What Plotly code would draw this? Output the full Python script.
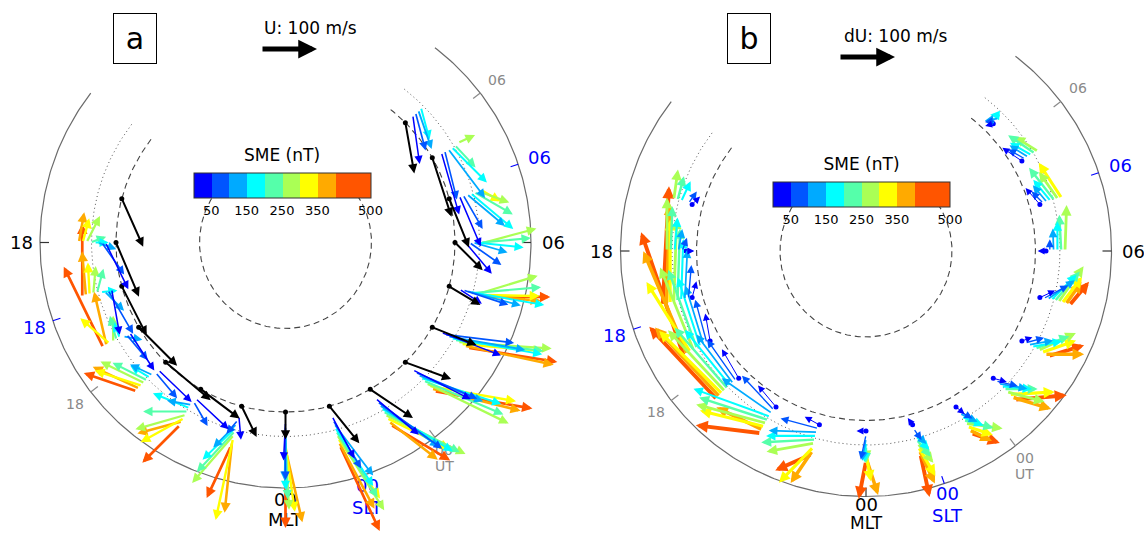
import numpy as np
import plotly.graph_objects as go

# ---------------- data ----------------
SME_EDGES = [0, 50, 100, 150, 200, 250, 300, 350, 400, 500]
SME_COLORS = ["#0000ff", "#0055ff", "#00aaff", "#00ffff", "#55ffaa",
              "#aaff55", "#ffff00", "#ffaa00", "#ff5500"]
SME_TICKS = [50, 150, 250, 350, 500]

# panel a: reference (black) wind per MLT sector: speed (m/s), bearing (deg from north toward east)
A_BLACK_MLT = [17, 18, 19, 20, 21, 22, 23, 0, 1, 2, 3, 4, 5, 6, 7, 8, 9]
A_BLACK_SPEED = [94, 105, 98, 97, 105, 87, 61, 49, 85, 92, 87, 85, 65, 70, 94, 111, 92]
A_BLACK_BEARING = [51, 67, 78, 75, 85, 97, 139, 180, 156, 154, 155, 172, 196, 225, 263, 282, 305]

# panel a: wind per MLT sector for the 9 SME bins (speed m/s, bearing deg); None = no data
A_MLT = [18, 19, 20, 21, 22, 23, 0, 1, 2, 3, 4, 5, 6, 7, 8, 9]
A_SPEED = [
    [93, 70, 35, 26, 30, 53, 45, 55, None],
    [83, 90, 50, 30, 45, 50, 58, 80, 131],
    [81, 60, 35, 30, 45, 47, 70, 99, 161],
    [83, 60, 45, 41, 70, 88, 89, 92, 100],
    [81, 50, 45, 71, 80, 94, 89, 83, 96],
    [42, 32, 60, 83, 100, 114, 149, 127, 103],
    [68, 96, 90, 100, 110, 122, 120, 134, 134],
    [85, 100, 116, 125, 140, 159, 131, 135, 168],
    [101, 143, 130, 149, 155, 160, 125, 111, 124],
    [116, 120, 125, 151, 155, 164, 158, 164, 178],
    [114, 125, 140, 165, 160, 168, 147, 163, 162],
    [48, 85, 100, 134, 120, 112, 104, 100, 110],
    [73, 70, 64, 84, 90, 96, None, None, None],
    [98, 70, 89, 100, 80, 60, 40, None, None],
    [115, 90, 110, 90, 55, 34, None, None, None],
    [88, 70, 74, 60, None, None, None, None, None],
]
A_BEARING = [
    [64, 55, 20, 0, 340, 297, 285, 280, None],
    [95, 75, 60, 10, 300, 290, 282, 280, 285],
    [87, 80, 40, 280, 285, 300, 251, 287, 274],
    [89, 95, 250, 256, 252, 251, 243, 250, 244],
    [103, 120, 250, 262, 240, 224, 211, 225, 195],
    [160, 205, 210, 211, 208, 206, 177, 171, 190],
    [183, 180, 181, 180, 178, 177, 172, 167, 180],
    [167, 165, 158, 162, 163, 163, 160, 167, 170],
    [160, 156, 155, 151, 148, 146, 146, 158, 151],
    [162, 158, 157, 153, 158, 161, 145, 149, 145],
    [171, 157, 160, 160, 157, 154, 155, 162, 159],
    [198, 183, 180, 175, 160, 148, 166, 170, 165],
    [230, 215, 196, 186, 175, 165, None, None, None],
    [262, 255, 235, 235, 225, 215, 226, None, None],
    [284, 286, 263, 255, 257, 185, None, None, None],
    [307, 300, 296, 300, None, None, None, None, None],
]

# panel b: wind difference per MLT sector for the 9 SME bins
B_MLT = [17, 18, 19, 20, 21, 22, 23, 0, 1, 2, 3, 4, 5, 6, 7, 8, 9]
B_SPEED = [
    [20, 26, None, 40, 45, 54, None, None, None],
    [15, 25, 40, 60, 80, 95, None, None, None],
    [30, 60, 90, 110, 130, 150, 150, 180, 213],
    [50, 80, 110, 130, 150, 160, 148, 200, 234],
    [60, 90, 110, 130, 145, 150, 160, 170, 178],
    [50, 84, 110, 146, 130, 130, 119, 92, 117],
    [30, 70, 87, 90, 97, 87, 89, 70, 71],
    [17, 45, 40, 35, 30, 20, 50, 70, 68],
    [15, 25, 30, 35, 40, 45, 60, 65, 78],
    [20, 30, 35, 42, 55, 67, 48, 45, 54],
    [25, 40, 52, 55, 60, 70, 81, 73, 93],
    [20, 35, 45, 55, 65, 74, 65, 70, 67],
    [30, 50, 60, 65, 70, 79, 60, 50, 55],
    [15, 21, 40, 53, 65, 82, None, None, None],
    [39, 30, 40, 50, 74, 60, 76, None, None],
    [42, 35, 40, 45, 58, 50, None, None, None],
    [15, 20, 25, 20, None, None, None, None, None],
]
B_BEARING = [
    [300, 290, None, 280, 270, 263, None, None, None],
    [0, 290, 280, 275, 272, 270, None, None, None],
    [300, 290, 288, 287, 287, 287, 285, 287, 288],
    [290, 285, 283, 282, 280, 278, 268, 277, 281],
    [285, 280, 278, 276, 274, 272, 270, 272, 272],
    [290, 287, 275, 260, 258, 255, 254, 266, 247],
    [284, 270, 257, 255, 252, 245, 209, 199, 231],
    [270, 192, 190, 185, 180, 175, 170, 162, 191],
    [340, 160, 150, 150, 155, 156, 165, 170, 183],
    [160, 150, 145, 142, 135, 128, 138, 146, 139],
    [150, 148, 145, 140, 135, 150, 132, 152, 130],
    [130, 135, 140, 140, 130, 125, 131, 150, 133],
    [140, 137, 130, 120, 115, 110, 112, 110, 115],
    [0, 90, 88, 90, 87, 92, None, None, None],
    [64, 60, 65, 66, 67, 70, 72, None, None],
    [64, 60, 62, 60, 64, 62, None, None, None],
    [30, 40, 35, 50, None, None, None, None, None],
]

# ---------------- layout constants ----------------
W, H = 1144, 533
PX_PER_MS = 0.56          # arrow length per m/s
R_OUTER, R_DOT, R_DASH, R_INNER = 245.5, 194, 169.5, 86
R_BLACK = 169.5
R_BASE0, R_STEP = 180, 3.8
GAP = (9.5, 15.5)          # MLT gap of the rings
SLT_OFF, UT_OFF = 1.24, 2.5
FONT = "DejaVu Sans"
BLUE, GRAY = "#0000ff", "#8a8a8a"

# panel centres in pixels
CA = (285.5, 242.5)
CB = (866.0, 251.0)


def pxy(mlt, r):
    th = np.deg2rad(np.asarray(mlt, dtype=float) * 15.0)
    return r * np.sin(th), -r * np.cos(th)


def vec(mlt, speed, bearing):
    th = np.deg2rad(mlt * 15.0)
    b = np.deg2rad(bearing)
    e, n = speed * np.sin(b), speed * np.cos(b)
    return ((e * np.cos(th) - n * np.sin(th)) * PX_PER_MS,
            (e * np.sin(th) + n * np.cos(th)) * PX_PER_MS)


fig = go.Figure()
annotations = []
shapes = []

axes = [("x", "y", CA), ("x2", "y2", CB)]


def ring_traces(xr, yr):
    m = np.linspace(GAP[1], GAP[0] + 24, 400)
    specs = [(R_OUTER, "solid", "#6b6b6b", 1.2),
             (R_DOT, "1px,3px", "#555555", 1.0),
             (R_DASH, "6px,4px", "#444444", 1.1),
             (R_INNER, "6px,4px", "#444444", 1.1)]
    for r, dash, col, w in specs:
        x, y = pxy(m, r)
        fig.add_trace(go.Scatter(x=x, y=y, xaxis=xr, yaxis=yr, mode="lines",
                                 line=dict(color=col, width=w, dash=dash),
                                 hoverinfo="skip", showlegend=False))
    for mlts, col, ln in [([0, 6, 18], "#333333", 9),
                          ([0 + SLT_OFF, 6 + SLT_OFF, 18 + SLT_OFF], BLUE, 8),
                          ([0 + UT_OFF, 6 + UT_OFF, 18 + UT_OFF], GRAY, 9)]:
        xs, ys = [], []
        for mm in mlts:
            x0, y0 = pxy(mm, R_OUTER)
            x1, y1 = pxy(mm, R_OUTER - ln)
            xs += [x0, x1, None]
            ys += [y0, y1, None]
        fig.add_trace(go.Scatter(x=xs, y=ys, xaxis=xr, yaxis=yr, mode="lines",
                                 line=dict(color=col, width=1.2),
                                 hoverinfo="skip", showlegend=False))


def label(xr, yr, mlt, r, text, color, size, dy=0):
    x, y = pxy(mlt, r)
    annotations.append(dict(x=float(x), y=float(y) - dy, xref=xr, yref=yr, text=text,
                            showarrow=False, font=dict(family=FONT, size=size, color=color),
                            xanchor="center", yanchor="middle"))


def arrow(xr, yr, x0, y0, x1, y1, color, width):
    size = 1.4 / width ** 0.6
    annotations.append(dict(x=float(x1), y=float(y1), ax=float(x0), ay=float(y0),
                            xref=xr, yref=yr, axref=xr, ayref=yr, text="",
                            showarrow=True, arrowhead=2, arrowsize=size,
                            arrowwidth=width, arrowcolor=color, standoff=0))


for xr, yr, c in axes:
    ring_traces(xr, yr)
    b = xr == "x2"
    label(xr, yr, 18, 264.5 if not b else 265, "18", "black", 18)
    label(xr, yr, 6, 268 if not b else 267, "06", "black", 18)
    label(xr, yr, 0, 257 if not b else 253, "00", "black", 18)
    label(xr, yr, 0, 257 if not b else 253, "MLT", "black", 18 if not b else 17,
          dy=20 if not b else 18.5)
    label(xr, yr, 6 + SLT_OFF, 268, "06", BLUE, 18)
    label(xr, yr, 18 + SLT_OFF, 265, "18", BLUE, 18)
    label(xr, yr, SLT_OFF, 256, "00", BLUE, 18)
    label(xr, yr, SLT_OFF, 256, "SLT", BLUE, 18, dy=22)
    label(xr, yr, 6 + UT_OFF, 267, "06", GRAY, 14)
    label(xr, yr, 18 + UT_OFF, 265, "18", GRAY, 14)
    label(xr, yr, UT_OFF, 261, "00", GRAY, 14)
    label(xr, yr, UT_OFF, 261, "UT", GRAY, 14, dy=16)


def colored(xr, yr, mlts, speeds, bearings, wfun, dots):
    for k in range(8, -1, -1):
        for mlt, sp, be in zip(mlts, speeds, bearings):
            if sp[k] is None:
                continue
            x0, y0 = pxy(mlt, R_BASE0 + R_STEP * k)
            vx, vy = vec(mlt, sp[k], be[k])
            arrow(xr, yr, x0, y0, x0 + vx, y0 + vy, SME_COLORS[k], wfun(k))
    if dots:
        x0, y0 = pxy(mlts, R_BASE0)
        fig.add_trace(go.Scatter(x=x0, y=y0, xaxis=xr, yaxis=yr, mode="markers",
                                 marker=dict(color=SME_COLORS[0], size=5),
                                 hoverinfo="skip", showlegend=False))


colored("x", "y", A_MLT, A_SPEED, A_BEARING, lambda k: 1.5 + 0.15 * k, False)
colored("x2", "y2", B_MLT, B_SPEED, B_BEARING, lambda k: 1.0 + 0.36 * k, True)

# black arrows of panel a
bx, by = pxy(A_BLACK_MLT, R_BLACK)
fig.add_trace(go.Scatter(x=bx, y=by, xaxis="x", yaxis="y", mode="markers",
                         marker=dict(color="black", size=5), hoverinfo="skip", showlegend=False))
for mlt, sp, be, x0, y0 in zip(A_BLACK_MLT, A_BLACK_SPEED, A_BLACK_BEARING, bx, by):
    vx, vy = vec(mlt, sp, be)
    arrow("x", "y", x0, y0, x0 + vx, y0 + vy, "black", 2.0)

# reference arrows (100 m/s)
REF_SPEED = 100
for xr, yr, c, x0, ytop, txt, tx, ty in [("x", "y", CA, 261, 49, "U: 100 m/s", 310, 28),
                                          ("x2", "y2", CB, 839, 57, "dU: 100 m/s", 896, 36)]:
    ax0, ay0 = x0 - c[0], c[1] - ytop
    annotations.append(dict(x=ax0 + REF_SPEED * PX_PER_MS, y=ay0, ax=ax0, ay=ay0,
                            xref=xr, yref=yr, axref=xr, ayref=yr, text="", showarrow=True,
                            arrowhead=2, arrowsize=0.75, arrowwidth=5, arrowcolor="black",
                            standoff=0))
    annotations.append(dict(x=tx - c[0], y=c[1] - ty, xref=xr, yref=yr, text=txt,
                            showarrow=False, font=dict(family=FONT, size=17, color="black"),
                            xanchor="center", yanchor="middle"))

# panel letters
for txt, cx, cy in [("a", 134.5, 38.5), ("b", 749.0, 38.5)]:
    annotations.append(dict(x=cx / W, y=1 - cy / H, xref="paper", yref="paper", text=txt,
                            showarrow=False, font=dict(family=FONT, size=30, color="black"),
                            width=42, height=49, borderpad=0, bordercolor="black",
                            borderwidth=1, bgcolor="white", xanchor="center", yanchor="middle"))

# SME colorbars (bar top/left in pixels)
CBAR_LEN, CBAR_THICK = 177, 25
cs = []
for i, col in enumerate(SME_COLORS):
    cs += [[SME_EDGES[i] / 500, col], [SME_EDGES[i + 1] / 500, col]]
for xr, yr, cxp, bar_top in [("x", "y", 282.0, 173.0), ("x2", "y2", 861.5, 182.0)]:
    fig.add_trace(go.Scatter(
        x=[0], y=[0], xaxis=xr, yaxis=yr, mode="markers", hoverinfo="skip", showlegend=False,
        marker=dict(size=1, opacity=0, color=[250], cmin=0, cmax=500, colorscale=cs,
                    showscale=True,
                    colorbar=dict(orientation="h", x=cxp / W, xanchor="center",
                                  y=1 - (bar_top - 20) / H, yanchor="top",
                                  len=CBAR_LEN / W, lenmode="fraction",
                                  thickness=CBAR_THICK, thicknessmode="pixels", outlinewidth=1,
                                  outlinecolor="#333333", tickvals=SME_TICKS, ticks="",
                                  tickfont=dict(family=FONT, size=13, color="black"),
                                  title=dict(text="SME (nT)", side="top",
                                             font=dict(family=FONT, size=17, color="black")),
                                  xpad=0, ypad=0, bgcolor="rgba(0,0,0,0)"))))
    left = cxp - CBAR_LEN / 2
    for e in SME_EDGES[1:-1]:
        xe = left + e / 500 * CBAR_LEN
        shapes.append(dict(type="line", xref="paper", yref="paper",
                           x0=xe / W, x1=xe / W, y0=1 - bar_top / H,
                           y1=1 - (bar_top + CBAR_THICK) / H,
                           line=dict(color="#333333", width=0.8), layer="above"))

ax_common = dict(visible=False, showgrid=False, zeroline=False, fixedrange=True)
fig.update_layout(
    width=W, height=H, margin=dict(l=0, r=0, t=0, b=0),
    paper_bgcolor="white", plot_bgcolor="white", showlegend=False,
    xaxis=dict(domain=[0, 0.5], range=[-CA[0], 572 - CA[0]], **ax_common),
    yaxis=dict(domain=[0, 1], range=[CA[1] - H, CA[1]], **ax_common),
    xaxis2=dict(domain=[0.5, 1], range=[572 - CB[0], W - CB[0]], **ax_common),
    yaxis2=dict(domain=[0, 1], range=[CB[1] - H, CB[1]], anchor="x2", **ax_common),
    annotations=annotations, shapes=shapes,
)
fig.write_html("out.html")
